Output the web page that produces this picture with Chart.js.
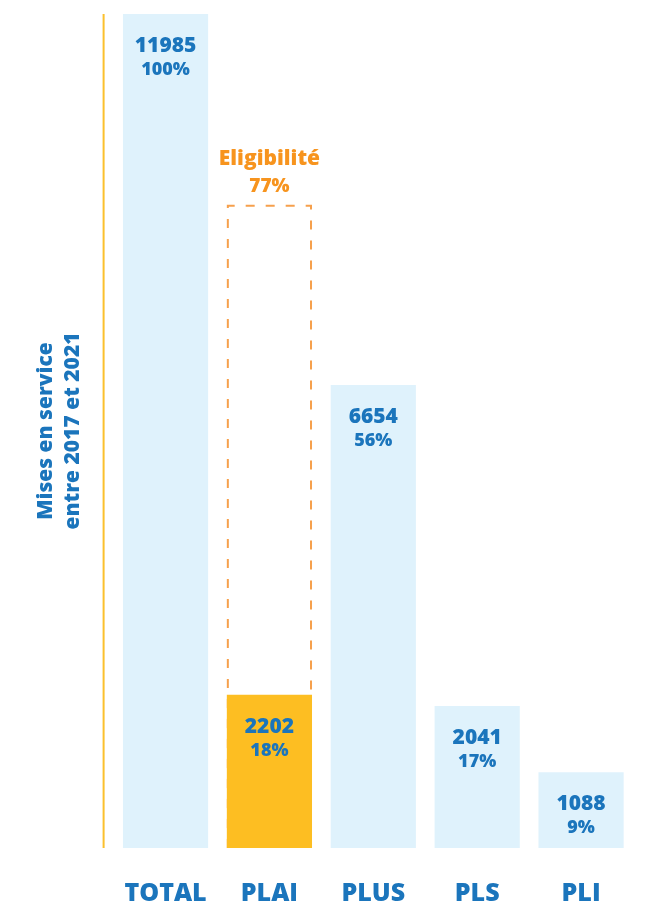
<!DOCTYPE html>
<html>
<head>
<meta charset="utf-8">
<script src="https://cdn.jsdelivr.net/npm/chart.js@4.4.0/dist/chart.umd.min.js"></script>
<style>
  html, body { margin: 0; padding: 0; background: #fff; }
  #wrap { width: 645px; height: 906px; }
</style>
</head>
<body>
<div id="wrap"><canvas id="chart"></canvas></div>
<script>
// Données
const categories = ['TOTAL', 'PLAI', 'PLUS', 'PLS', 'PLI'];
const miseEnService = [11985, 2202, 6654, 2041, 1088];
const pourcentages = [100, 18, 56, 17, 9];
const eligibilite = [null, 9228, null, null, null];
const eligibilitePct = [null, 77, null, null, null];
const axisTitle = ['Mises en service', 'entre 2017 et 2021'];

const BLUE = '#1b75bc';
const LIGHT = '#dff2fc';
const YELLOW = '#fdbe22';
const ORANGE = '#f7941e';
const FONT = "'Open Sans', sans-serif";

// Ligne verticale jaune à gauche
const axisLine = {
    id: 'axisLine',
    beforeDatasetsDraw(chart) {
        const { ctx, chartArea, scales: { y } } = chart;
        ctx.save();
        ctx.strokeStyle = '#fbc02d';
        ctx.lineWidth = 2;
        ctx.beginPath();
        ctx.moveTo(chartArea.left - 10, y.getPixelForValue(y.max));
        ctx.lineTo(chartArea.left - 10, y.getPixelForValue(0));
        ctx.stroke();
        ctx.restore();
    }
};

// Cadre pointillé de l'éligibilité
const eligBox = {
    id: 'eligBox',
    beforeDatasetsDraw(chart) {
        const { ctx } = chart;
        const meta = chart.getDatasetMeta(1);
        ctx.save();
        meta.data.forEach((el, i) => {
            if (eligibilite[i] == null) return;
            const l = el.x - el.width / 2 + 1;
            const r = el.x + el.width / 2 - 1;
            ctx.strokeStyle = '#f6a04c';
            ctx.lineWidth = 2;
            ctx.setLineDash([9, 11]);
            ctx.beginPath();
            ctx.moveTo(l, el.base);
            ctx.lineTo(l, el.y);
            ctx.lineTo(r, el.y);
            ctx.lineTo(r, el.base);
            ctx.stroke();
            ctx.setLineDash([]);
            ctx.fillStyle = ORANGE;
            ctx.textAlign = 'center';
            ctx.textBaseline = 'middle';
            ctx.font = "800 21px " + FONT;
            ctx.fillText('Eligibilité', el.x, el.y - 47);
            ctx.font = "800 19px " + FONT;
            ctx.fillText(eligibilitePct[i] + '%', el.x, el.y - 19);
        });
        ctx.restore();
    }
};

// Valeurs dans les barres
const barLabels = {
    id: 'barLabels',
    afterDatasetsDraw(chart) {
        const { ctx } = chart;
        const meta = chart.getDatasetMeta(0);
        ctx.save();
        ctx.fillStyle = BLUE;
        ctx.textAlign = 'center';
        ctx.textBaseline = 'middle';
        meta.data.forEach((el, i) => {
            ctx.font = "800 21px " + FONT;
            ctx.fillText(miseEnService[i], el.x, el.y + 32);
            ctx.font = "800 18px " + FONT;
            ctx.fillText(pourcentages[i] + '%', el.x, el.y + 56);
        });
        ctx.restore();
    }
};

new Chart(document.getElementById('chart'), {
    type: 'bar',
    data: {
        labels: categories,
        datasets: [
            {
                label: 'Mises en service',
                data: miseEnService,
                backgroundColor: [LIGHT, YELLOW, LIGHT, LIGHT, LIGHT],
                borderWidth: 0,
                grouped: false,
                order: 1,
                categoryPercentage: 1,
                barPercentage: 0.82
            },
            {
                label: 'Eligibilité',
                data: eligibilite,
                backgroundColor: 'rgba(0,0,0,0)',
                borderWidth: 0,
                grouped: false,
                order: 2,
                categoryPercentage: 1,
                barPercentage: 0.82
            }
        ]
    },
    options: {
        responsive: true,
        maintainAspectRatio: false,
        animation: false,
        devicePixelRatio: 1,
        layout: { padding: { top: 14, left: 32, right: 12, bottom: 0 } },
        plugins: {
            legend: { display: false },
            tooltip: { enabled: false }
        },
        scales: {
            x: {
                grid: { display: false },
                border: { display: false },
                ticks: {
                    color: BLUE,
                    padding: 25,
                    font: { family: FONT, size: 25, weight: 800, lineHeight: 1 }
                },
                afterFit(scale) { scale.height = 58; }
            },
            y: {
                min: 0,
                max: 11985,
                grid: { display: false },
                border: { display: false },
                ticks: { display: false },
                title: {
                    display: true,
                    text: axisTitle,
                    color: BLUE,
                    padding: { top: 0, bottom: 19 },
                    font: { family: FONT, size: 21, weight: 800, lineHeight: 1.3 }
                }
            }
        }
    },
    plugins: [axisLine, eligBox, barLabels]
});
</script>
</body>
</html>
